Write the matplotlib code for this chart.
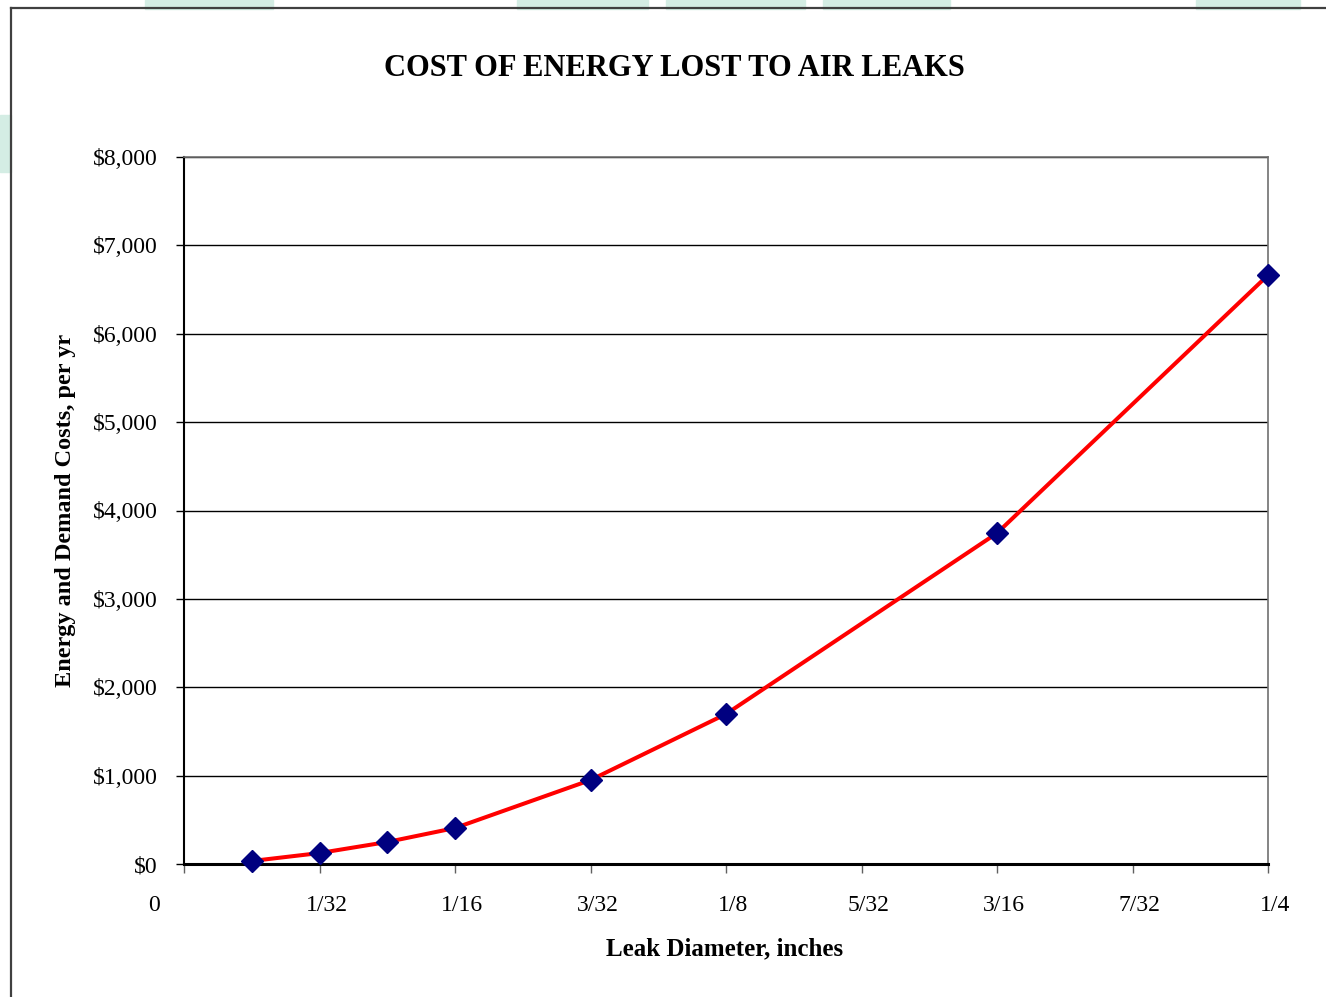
"""
Cost of energy lost to compressed air leaks vs. leak diameter
"""
import matplotlib
matplotlib.use("Agg")
import matplotlib.pyplot as plt
import matplotlib.transforms as mtransforms
from matplotlib.patches import Rectangle
from matplotlib.lines import Line2D

# data
leak_diameter = [1/64, 1/32, 3/64, 1/16, 3/32, 1/8, 3/16, 1/4]   # inches
cost_per_yr = [34, 124, 249, 407, 950, 1697, 3744, 6663]        # $ per yr

x_ticks = [0, 1/32, 1/16, 3/32, 1/8, 5/32, 3/16, 7/32, 1/4]
x_tick_labels = ["0", "1/32", "1/16", "3/32", "1/8", "5/32", "3/16", "7/32", "1/4"]
y_ticks = [0, 1000, 2000, 3000, 4000, 5000, 6000, 7000, 8000]
y_tick_labels = ["$0", "$1,000", "$2,000", "$3,000", "$4,000", "$5,000", "$6,000", "$7,000", "$8,000"]

plt.rcParams['font.family'] = ['Liberation Serif', 'DejaVu Serif']

W, H = 1326, 997
fig = plt.figure(figsize=(W / 100, H / 100), dpi=100)

# pale green slide decoration peeking out behind the chart
green = "#d4ede4"
for x0, x1 in [(145, 273), (517, 648), (666, 805), (823, 950), (1196, 1300)]:
    fig.patches.append(Rectangle((x0 / W, 1 - 9 / H), (x1 - x0) / W, 9 / H,
                                 transform=fig.transFigure, color=green, zorder=0))
fig.patches.append(Rectangle((0, 1 - 172 / H), 11 / W, 57 / H,
                             transform=fig.transFigure, color=green, zorder=0))

# chart area border (left + top only visible)
fig.lines.append(Line2D([11 / W, 11 / W], [0, 1 - 8 / H], transform=fig.transFigure,
                        color="#404040", lw=1.6))
fig.lines.append(Line2D([11 / W, 1], [1 - 8 / H, 1 - 8 / H], transform=fig.transFigure,
                        color="#404040", lw=1.6))

ax = fig.add_axes([184 / W, 1 - 864 / H, (1268 - 184) / W, (864 - 157) / H])

ax.plot(leak_diameter, cost_per_yr, color="red", lw=2.9, zorder=3, clip_on=False)
ax.plot(leak_diameter, cost_per_yr, ls="none", marker="D", ms=11, color="#000080",
        zorder=4, clip_on=False)

ax.set_xlim(0, 0.25)
ax.set_ylim(0, 8000)

ax.set_yticks(y_ticks)
ax.set_yticklabels(y_tick_labels, fontsize=17)
ax.set_xticks(x_ticks)
ax.set_xticklabels(x_tick_labels, fontsize=17)

ax.yaxis.grid(True, color="black", lw=1.0)
ax.set_axisbelow(True)

ax.tick_params(axis='y', length=5.8, width=1.0, color="black", pad=13, direction='out')
ax.tick_params(axis='x', length=6.5, width=1.0, color="#606060", pad=16, direction='out')

# excel-style offsets of the fraction labels
for lab in ax.get_xticklabels():
    dx = -30 if lab.get_text() == "0" else 7
    lab.set_transform(lab.get_transform() + mtransforms.ScaledTranslation(dx / 100, 0, fig.dpi_scale_trans))

ax.spines['left'].set_color("black")
ax.spines['left'].set_linewidth(1.5)
ax.spines['bottom'].set_color("black")
ax.spines['bottom'].set_linewidth(2.2)
ax.spines['top'].set_color("#707070")
ax.spines['top'].set_linewidth(1.2)
ax.spines['right'].set_color("#707070")
ax.spines['right'].set_linewidth(1.2)

ax.set_xlabel("Leak Diameter, inches", fontsize=18, fontweight='bold')
ax.xaxis.set_label_coords((725 - 184) / 1084, -(937 - 864) / 707)
ax.set_ylabel("Energy and Demand Costs, per yr", fontsize=17.5, fontweight='bold')
ax.yaxis.set_label_coords(-(184 - 76) / 1084, 0.5)

fig.text(674 / W, 1 - 69 / H, "COST OF ENERGY LOST TO AIR LEAKS", fontsize=22,
         fontweight='bold', ha='center', va='center')

fig.savefig("out.png", dpi=100)
